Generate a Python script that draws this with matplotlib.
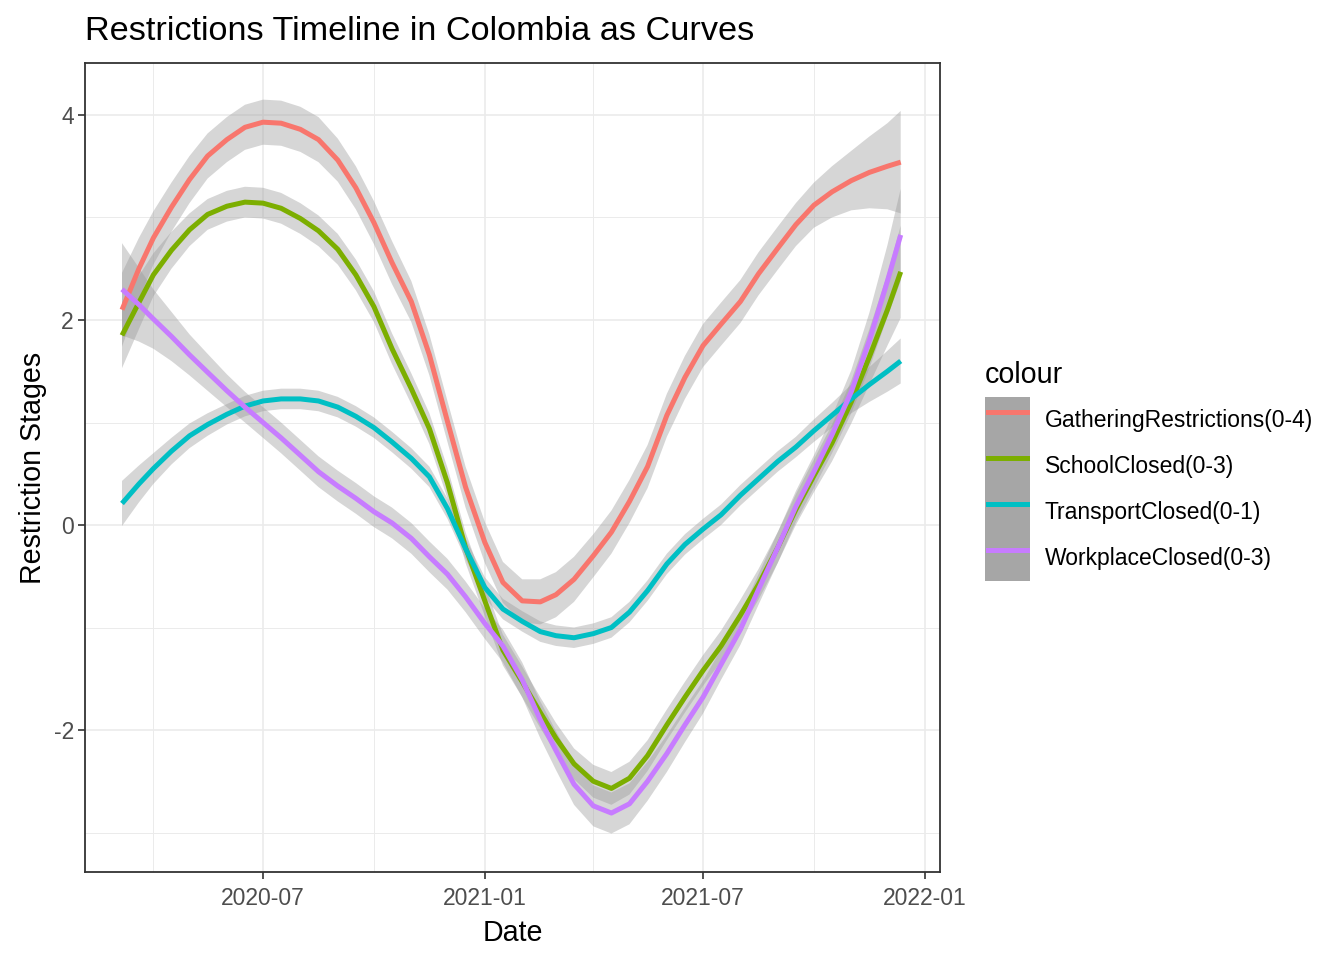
import matplotlib
matplotlib.use('Agg')
import matplotlib.pyplot as plt
import matplotlib.dates as mdates
import pandas as pd
from matplotlib.patches import Patch
from matplotlib.lines import Line2D
from matplotlib.legend_handler import HandlerTuple, HandlerLine2D

plt.rcParams['font.family'] = ['Liberation Sans', 'DejaVu Sans']
plt.rcParams['axes.unicode_minus'] = False

# ---------------- data ----------------
dates = pd.to_datetime([
    '2020-03-06', '2020-03-20', '2020-04-01', '2020-04-16', '2020-05-01', '2020-05-16',
    '2020-06-01', '2020-06-16', '2020-07-01', '2020-07-16', '2020-08-01', '2020-08-16',
    '2020-09-01', '2020-09-16', '2020-10-01', '2020-10-16', '2020-11-01', '2020-11-16',
    '2020-12-01', '2020-12-16', '2021-01-01', '2021-01-16', '2021-02-01', '2021-02-16',
    '2021-03-01', '2021-03-16', '2021-04-01', '2021-04-16', '2021-05-01', '2021-05-16',
    '2021-06-01', '2021-06-16', '2021-07-01', '2021-07-16', '2021-08-01', '2021-08-16',
    '2021-09-01', '2021-09-16', '2021-10-01', '2021-10-16', '2021-11-01', '2021-11-16',
    '2021-12-01', '2021-12-12'])

series_names = ['GatheringRestrictions(0-4)', 'SchoolClosed(0-3)',
                'TransportClosed(0-1)', 'WorkplaceClosed(0-3)']
series_colors = ['#F8766D', '#7CAE00', '#00BFC4', '#C77CFF']

gathering = [2.10, 2.50, 2.80, 3.10, 3.37, 3.60, 3.76, 3.88, 3.93, 3.92, 3.86, 3.76,
             3.56, 3.29, 2.95, 2.56, 2.18, 1.66, 1.01, 0.37, -0.17, -0.56, -0.74, -0.75,
             -0.68, -0.53, -0.30, -0.07, 0.23, 0.57, 1.07, 1.44, 1.75, 1.96, 2.18, 2.45,
             2.70, 2.93, 3.12, 3.25, 3.36, 3.44, 3.50, 3.54]
gathering_se = [0.36, 0.30, 0.26, 0.24, 0.23, 0.22, 0.22, 0.22, 0.22, 0.22, 0.22, 0.22,
                0.21, 0.21, 0.21, 0.21, 0.20, 0.20, 0.20, 0.20, 0.20, 0.20, 0.21, 0.22,
                0.22, 0.22, 0.21, 0.21, 0.21, 0.21, 0.21, 0.21, 0.21, 0.21, 0.21, 0.21,
                0.21, 0.21, 0.22, 0.25, 0.29, 0.35, 0.42, 0.50]

school = [1.85, 2.17, 2.44, 2.68, 2.88, 3.03, 3.11, 3.15, 3.14, 3.09, 2.99, 2.87,
          2.69, 2.44, 2.13, 1.72, 1.33, 0.94, 0.41, -0.22, -0.74, -1.22, -1.53, -1.83,
          -2.08, -2.33, -2.50, -2.57, -2.47, -2.25, -1.95, -1.68, -1.42, -1.18, -0.88, -0.58,
          -0.22, 0.15, 0.48, 0.80, 1.20, 1.64, 2.10, 2.47]
school_se = [0.32, 0.26, 0.21, 0.18, 0.16, 0.15, 0.15, 0.15, 0.15, 0.15, 0.15, 0.15,
             0.15, 0.15, 0.15, 0.15, 0.15, 0.15, 0.15, 0.15, 0.15, 0.15, 0.15, 0.15,
             0.15, 0.15, 0.16, 0.16, 0.16, 0.15, 0.15, 0.15, 0.15, 0.15, 0.15, 0.15,
             0.15, 0.15, 0.16, 0.18, 0.21, 0.27, 0.35, 0.45]

transport = [0.21, 0.40, 0.55, 0.72, 0.87, 0.98, 1.08, 1.16, 1.21, 1.23, 1.23, 1.21,
             1.15, 1.06, 0.95, 0.81, 0.65, 0.47, 0.16, -0.23, -0.61, -0.82, -0.94, -1.04,
             -1.08, -1.10, -1.06, -1.00, -0.85, -0.64, -0.38, -0.19, -0.04, 0.10, 0.29, 0.45,
             0.62, 0.76, 0.92, 1.07, 1.23, 1.37, 1.50, 1.60]
transport_se = [0.22, 0.18, 0.15, 0.13, 0.12, 0.11, 0.10, 0.10, 0.10, 0.10, 0.10, 0.10,
                0.10, 0.10, 0.10, 0.10, 0.10, 0.10, 0.10, 0.10, 0.10, 0.10, 0.10, 0.10,
                0.10, 0.10, 0.10, 0.10, 0.10, 0.10, 0.10, 0.10, 0.10, 0.10, 0.10, 0.10,
                0.10, 0.10, 0.11, 0.12, 0.14, 0.17, 0.20, 0.22]

workplace = [2.30, 2.15, 2.01, 1.84, 1.66, 1.49, 1.31, 1.15, 1.00, 0.85, 0.68, 0.52,
             0.38, 0.26, 0.13, 0.02, -0.13, -0.31, -0.48, -0.70, -0.96, -1.18, -1.51, -1.90,
             -2.20, -2.53, -2.74, -2.81, -2.72, -2.50, -2.23, -1.95, -1.68, -1.36, -1.02, -0.63,
             -0.22, 0.18, 0.52, 0.88, 1.30, 1.80, 2.38, 2.83]
workplace_se = [0.45, 0.36, 0.29, 0.24, 0.20, 0.18, 0.16, 0.15, 0.15, 0.15, 0.15, 0.15,
                0.15, 0.15, 0.15, 0.15, 0.15, 0.15, 0.15, 0.15, 0.15, 0.16, 0.17, 0.18,
                0.19, 0.20, 0.20, 0.20, 0.20, 0.19, 0.18, 0.17, 0.16, 0.15, 0.15, 0.15,
                0.15, 0.15, 0.16, 0.18, 0.21, 0.27, 0.35, 0.45]

values = [gathering, school, transport, workplace]
errors = [gathering_se, school_se, transport_se, workplace_se]

x_major = pd.to_datetime(['2020-07-01', '2021-01-01', '2021-07-01', '2022-01-01'])
x_minor = pd.to_datetime(['2020-04-01', '2020-10-01', '2021-04-01', '2021-10-01'])
y_major = [-2, 0, 2, 4]
y_minor = [-3, -1, 1, 3]


class ShortLineHandler(HandlerLine2D):
    """Legend line slightly shorter than its key box (ggplot look)."""
    def get_xdata(self, legend, xdescent, ydescent, width, height, fontsize):
        pad = 0.07 * width
        xd = [-xdescent + pad, -xdescent + width - pad]
        return xd, xd


# ---------------- figure ----------------
W, H = 1344, 960
fig = plt.figure(figsize=(W / 100, H / 100), dpi=100)
ax = fig.add_axes([85 / W, (H - 872) / H, 855 / W, 809 / H])

for vals, se, col in zip(values, errors, series_colors):
    lo = [v - s for v, s in zip(vals, se)]
    hi = [v + s for v, s in zip(vals, se)]
    ax.fill_between(dates, lo, hi, facecolor='#999999', alpha=0.4, linewidth=0)
    ax.plot(dates, vals, color=col, lw=3.6, solid_capstyle='butt',
            solid_joinstyle='round')

x0 = mdates.date2num(pd.Timestamp('2020-07-01'))
ax.set_xlim(x0 - 147.7, x0 + 561.6)
ax.set_ylim(-(872 - 525) / 102.5, (525 - 63) / 102.5)

ax.set_xticks(x_major)
ax.set_xticks(x_minor, minor=True)
ax.xaxis.set_major_formatter(mdates.DateFormatter('%Y-%m'))
ax.set_yticks(y_major)
ax.set_yticks(y_minor, minor=True)

ax.grid(which='major', color='#EBEBEB', lw=1.2)
ax.grid(which='minor', color='#EBEBEB', lw=0.7)
ax.set_axisbelow(True)
for sp in ax.spines.values():
    sp.set_color('#333333')
    sp.set_linewidth(1.3)

ax.tick_params(which='major', length=5, width=1.2, color='#333333',
               labelsize=16.5, labelcolor='#4D4D4D')
ax.tick_params(axis='x', which='major', pad=6)
ax.tick_params(axis='y', which='major', pad=3)
ax.tick_params(which='minor', length=0)

ax.set_xlabel('Date', fontsize=20.6, labelpad=6)
ax.set_ylabel('Restriction Stages', fontsize=20.6, labelpad=4.5)

fig.text(85 / W, 1 - 31 / H, 'Restrictions Timeline in Colombia as Curves',
         fontsize=24.7, ha='left', va='center')

handles = [(Patch(facecolor='#A6A6A6', edgecolor='none'),
            Line2D([], [], color=c, lw=3.6)) for c in series_colors]
leg = fig.legend(handles, series_names, loc='upper left',
                 bbox_to_anchor=(985 / W, 1 - 361 / H), frameon=False,
                 fontsize=16.5, title='colour', title_fontsize=20.6,
                 handlelength=1.96, handleheight=2.7, labelspacing=0,
                 handletextpad=0.65, borderpad=0, borderaxespad=0,
                 alignment='left',
                 handler_map={tuple: HandlerTuple(ndivide=1, pad=0),
                              Line2D: ShortLineHandler()})
leg._legend_box.sep = 6

fig.savefig('out.png', dpi=100)
